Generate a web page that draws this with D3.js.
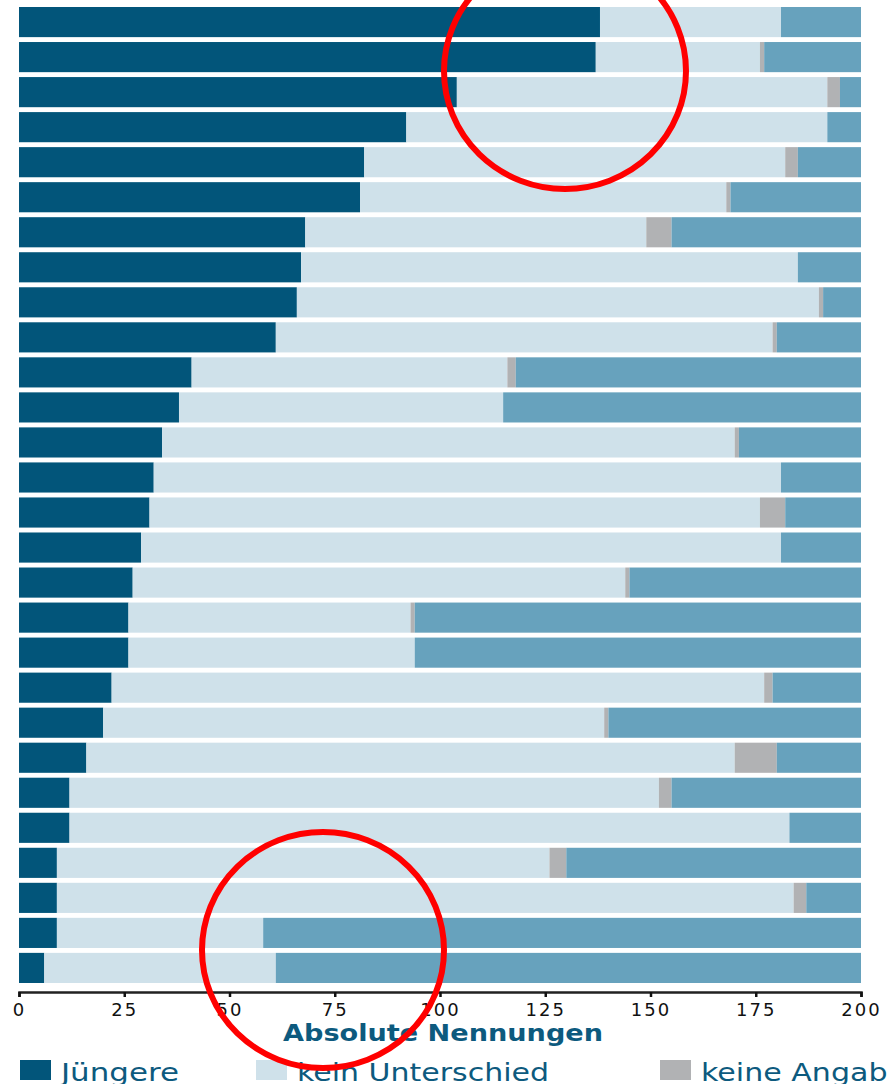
<!DOCTYPE html>
<html>
<head>
<meta charset="utf-8">
<script src="https://cdn.jsdelivr.net/npm/d3@7"></script>
<style>
  html, body { margin: 0; padding: 0; background: #fff; }
  svg { display: block; }
</style>
</head>
<body>
<svg width="887" height="1084"></svg>
<script>
// categories (no labels visible in the picture, so just item numbers)
var items = d3.range(1, 29).map(function (i) { return 'item' + i; });
var juengere   = [138, 137, 104, 92, 82, 81, 68, 67, 66, 61, 41, 38, 34, 32, 31, 29, 27, 26, 26, 22, 20, 16, 12, 12, 9, 9, 9, 6];
var keinUnter  = [43, 39, 88, 100, 100, 87, 81, 118, 124, 118, 75, 77, 136, 149, 145, 152, 117, 67, 68, 155, 119, 154, 140, 171, 117, 175, 49, 55];
var keineAng   = [0, 1, 3, 0, 3, 1, 6, 0, 1, 1, 2, 0, 1, 0, 6, 0, 1, 1, 0, 2, 1, 10, 3, 0, 4, 3, 0, 0];
var aeltere    = [19, 23, 5, 8, 15, 31, 45, 15, 9, 20, 82, 85, 29, 19, 18, 19, 55, 106, 106, 21, 60, 20, 45, 17, 70, 13, 142, 139];
var xTicks = [0, 25, 50, 75, 100, 125, 150, 175, 200];
var keys = ['juengere', 'kein', 'keine', 'aeltere'];
var legendLabels = ['Jüngere', 'kein Unterschied', 'keine Angabe'];

var colors = { juengere: '#02557a', kein: '#cfe1ea', keine: '#b1b2b4', aeltere: '#67a2bd' };
var textBlue = '#0d5a7e';

var table = items.map(function (d, i) {
    return { id: d, juengere: juengere[i], kein: keinUnter[i], keine: keineAng[i], aeltere: aeltere[i] };
});

var svg = d3.select('svg');

var x = d3.scaleLinear().domain([0, 200]).range([19, 861]);
var y = d3.scaleBand().domain(items).range([7, 983]).paddingInner(0.14).paddingOuter(0);

var series = d3.stack().keys(keys)(table);

svg.append('g').attr('class', 'bars')
    .selectAll('g')
    .data(series)
    .enter()
    .append('g')
    .attr('fill', function (d) { return colors[d.key]; })
    .selectAll('rect')
    .data(function (d) { return d; })
    .enter()
    .append('rect')
    .attr('x', function (d) { return x(d[0]); })
    .attr('width', function (d) { return x(d[1]) - x(d[0]); })
    .attr('y', function (d) { return y(d.data.id); })
    .attr('height', y.bandwidth());

// x axis
var axis = svg.append('g')
    .attr('transform', 'translate(0,992)')
    .call(d3.axisBottom(x).tickValues(xTicks).tickSize(5).tickPadding(6));
axis.select('.domain').attr('stroke', '#222').attr('stroke-width', 2.5);
axis.selectAll('.tick line').attr('stroke', '#111').attr('stroke-width', 2.5);
axis.selectAll('.tick text')
    .attr('fill', '#111')
    .attr('font-family', 'DejaVu Sans')
    .attr('font-size', 18)
    .attr('letter-spacing', 2);

svg.append('text')
    .attr('x', x(100) + 3)
    .attr('y', 1041)
    .attr('text-anchor', 'middle')
    .attr('font-family', 'DejaVu Sans')
    .attr('font-weight', 'bold')
    .attr('font-size', 23)
    .attr('fill', textBlue)
    .attr('textLength', 320)
    .attr('lengthAdjust', 'spacingAndGlyphs')
    .text('Absolute Nennungen');

// legend (the bottom row is cut by the frame, as in the original)
var legendX = [20, 256, 660];
var legendW = [118, 252, 205];
var legend = svg.append('g').selectAll('g')
    .data(legendLabels)
    .enter()
    .append('g')
    .attr('transform', function (d, i) { return 'translate(' + legendX[i] + ',1060)'; });
legend.append('rect')
    .attr('width', 31).attr('height', 20)
    .attr('fill', function (d, i) { return colors[keys[i]]; });
legend.append('text')
    .attr('x', 41)
    .attr('y', 21)
    .attr('font-family', 'DejaVu Sans')
    .attr('font-size', 25)
    .attr('fill', textBlue)
    .attr('textLength', function (d, i) { return legendW[i]; })
    .attr('lengthAdjust', 'spacingAndGlyphs')
    .text(function (d) { return d; });

// red highlight circles
var marks = [{ cx: 565, cy: 71, rx: 121, ry: 118 }, { cx: 323, cy: 950, rx: 121, ry: 118 }];
svg.append('g').selectAll('ellipse')
    .data(marks)
    .enter()
    .append('ellipse')
    .attr('cx', function (d) { return d.cx; })
    .attr('cy', function (d) { return d.cy; })
    .attr('rx', function (d) { return d.rx; })
    .attr('ry', function (d) { return d.ry; })
    .attr('fill', 'none')
    .attr('stroke', '#ff0000')
    .attr('stroke-width', 6);
</script>
</body>
</html>
